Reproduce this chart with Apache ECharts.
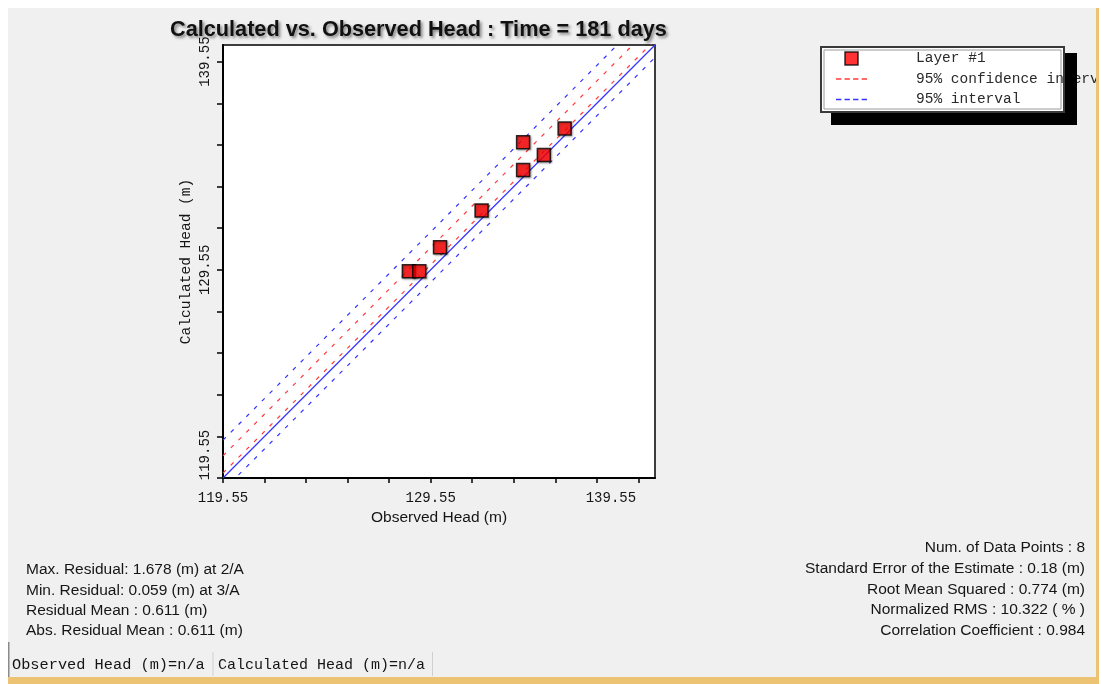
<!DOCTYPE html>
<html><head><meta charset="utf-8">
<script src="https://cdn.jsdelivr.net/npm/echarts@6/dist/echarts.min.js"></script>
<style>html,body{margin:0;padding:0;background:#fff;}#c{width:1102px;height:684px;}</style>
</head><body><div id="c"></div>
<script>
// ---- data ----
const observedHead   = [128.5, 129.0, 130.0, 132.0, 134.0, 134.0, 135.0, 136.0];
const calculatedHead = [129.48, 129.48, 130.64, 132.40, 134.34, 135.68, 135.06, 136.34];
const axisRange  = [119.55, 140.35];
const tickValues = [119.55, 121.55, 123.55, 125.55, 127.55, 129.55, 131.55, 133.55, 135.55, 137.55, 139.55];
const labelValues = [119.55, 129.55, 139.55];
const lineOneToOne = [[119.55, 119.55], [140.35, 140.35]];
const confUpper = [[119.55, 120.62], [140.35, 141.42]];
const confLower = [[119.55, 119.79], [140.35, 140.59]];
const predUpper = [[119.55, 121.37], [140.35, 142.17]];
const predLower = [[119.55, 118.95], [140.35, 139.75]];
const legendNames = ['Layer #1', '95% confidence interval', '95% interval'];
const titleText = 'Calculated vs. Observed Head : Time = 181 days';
const xName = 'Observed Head (m)';
const yName = 'Calculated Head (m)';
const leftStats = ['Max. Residual: 1.678 (m) at 2/A', 'Min. Residual: 0.059 (m) at 3/A', 'Residual Mean : 0.611 (m)', 'Abs. Residual Mean : 0.611 (m)'];
const rightStats = ['Num. of Data Points : 8', 'Standard Error of the Estimate : 0.18 (m)', 'Root Mean Squared : 0.774 (m)', 'Normalized RMS : 10.322 ( % )', 'Correlation Coefficient : 0.984'];
const statusTexts = ['Observed Head (m)=n/a', 'Calculated Head (m)=n/a'];

// ---- styling ----
const MONO = '"Liberation Mono", "DejaVu Sans Mono", monospace';
const SANS = '"Liberation Sans", Arial, sans-serif';
const BLUE = '#3434ff', RED = '#ff3a3a', TXT = '#151515';
const DASH_ICON = 'path://M0,0h5v1.3h-5z M8,0h5v1.3h-5z M16,0h5v1.3h-5z M24,0h5v1.3h-5z';
const SQUARE_ICON = 'path://M0,0h10v10h-10z';

const chart = echarts.init(document.getElementById('c'));

const isVal = (v, t) => Math.abs(v - t) < 1e-6;
const labelRich = {
  n: { fontFamily: MONO, fontSize: 14, color: TXT },
  sx: { fontFamily: MONO, fontSize: 14, color: TXT, padding: [0, 55, 0, 0] },
  sy: { fontFamily: MONO, fontSize: 14, color: TXT, padding: [0, 0, 0, 46] }
};

const graphics = [];
// window panel
graphics.push({ type: 'rect', z: -20, silent: true, shape: { x: 8, y: 8, width: 1089, height: 669 }, style: { fill: '#f0f0f0' } });
// yellow frame
graphics.push({ type: 'rect', z: 30, silent: true, shape: { x: 1096, y: 8, width: 3, height: 676 }, style: { fill: '#ecc373' } });
graphics.push({ type: 'rect', z: 30, silent: true, shape: { x: 8, y: 677, width: 1091, height: 7 }, style: { fill: '#ecc373' } });
graphics.push({ type: 'rect', z: 30, silent: true, shape: { x: 1099, y: 0, width: 3, height: 684 }, style: { fill: '#ffffff' } });
// legend box + shadow
graphics.push({ type: 'rect', z: 3, silent: true, shape: { x: 821, y: 47, width: 243, height: 65 }, style: { fill: '#ffffff', stroke: '#3a3a3a', lineWidth: 2 } });
graphics.push({ type: 'rect', z: 3, silent: true, shape: { x: 824, y: 50, width: 237, height: 59 }, style: { fill: 'none', stroke: '#9a9a9a', lineWidth: 1 } });
graphics.push({ type: 'rect', z: 20, silent: true, shape: { x: 1065, y: 53, width: 12, height: 72 }, style: { fill: '#000' } });
graphics.push({ type: 'rect', z: 20, silent: true, shape: { x: 831, y: 113, width: 246, height: 12 }, style: { fill: '#000' } });
// statistics
leftStats.forEach((t, i) => graphics.push({ type: 'text', z: 5, silent: true, x: 26, y: 570 + i * 20.3,
  style: { text: t, font: '15.5px ' + SANS, fill: TXT, textAlign: 'left', textVerticalAlign: 'middle' } }));
rightStats.forEach((t, i) => graphics.push({ type: 'text', z: 5, silent: true, x: 1085, y: 548 + i * 20.7,
  style: { text: t, font: '15.5px ' + SANS, fill: TXT, textAlign: 'right', textVerticalAlign: 'middle' } }));
// status bar
graphics.push({ type: 'rect', z: 5, silent: true, shape: { x: 8, y: 642, width: 1.5, height: 35 }, style: { fill: '#8a8a8a' } });
graphics.push({ type: 'rect', z: 5, silent: true, shape: { x: 212.5, y: 652, width: 1, height: 24 }, style: { fill: '#cfcfcf' } });
graphics.push({ type: 'rect', z: 5, silent: true, shape: { x: 432, y: 652, width: 1, height: 24 }, style: { fill: '#cfcfcf' } });
graphics.push({ type: 'text', z: 5, silent: true, x: 12, y: 665, style: { text: statusTexts[0], font: '15.3px ' + MONO, fill: TXT, textVerticalAlign: 'middle' } });
graphics.push({ type: 'text', z: 5, silent: true, x: 218, y: 665, style: { text: statusTexts[1], font: '15px ' + MONO, fill: TXT, textVerticalAlign: 'middle' } });

const dashLine = (name, data, color) => ({
  name, type: 'line', data, symbol: 'none', silent: true, clip: true, z: 2,
  lineStyle: { color, width: 1.2, type: [4, 7] }, itemStyle: { color }
});

const option = {
  backgroundColor: '#ffffff',
  animation: false,
  title: {
    text: titleText, left: 170, top: 19, padding: 0,
    textStyle: { fontFamily: SANS, fontSize: 21.7, fontWeight: 'bold', color: '#111',
      textShadowColor: 'rgba(0,0,0,0.45)', textShadowBlur: 3, textShadowOffsetX: 2, textShadowOffsetY: 2 }
  },
  legend: {
    data: [
      { name: legendNames[0], icon: SQUARE_ICON, itemStyle: { color: '#ff0000', borderColor: '#000', borderWidth: 1.5 } },
      { name: legendNames[1], icon: DASH_ICON, itemStyle: { color: RED, borderWidth: 0 } },
      { name: legendNames[2], icon: DASH_ICON, itemStyle: { color: BLUE, borderWidth: 0 } }
    ],
    orient: 'vertical', left: 836, top: 51, padding: 0, symbolKeepAspect: true,
    itemWidth: 31, itemHeight: 13, itemGap: 5.5, selectedMode: false,
    textStyle: { fontFamily: MONO, fontSize: 14.5, color: '#2a2a2a', padding: [0, 0, 0, 44] }
  },
  grid: { left: 223, top: 45, width: 432, height: 433, show: true, backgroundColor: '#ffffff', borderColor: '#000', borderWidth: 1.5 },
  xAxis: {
    type: 'value', min: axisRange[0], max: axisRange[1],
    name: xName, nameLocation: 'middle', nameGap: 32,
    nameTextStyle: { fontFamily: SANS, fontSize: 15.5, color: TXT },
    axisLine: { show: true, onZero: false, lineStyle: { color: '#000', width: 2 } },
    axisTick: { show: true, length: 5, customValues: tickValues, lineStyle: { color: '#000', width: 1.5 } },
    axisLabel: { customValues: labelValues, margin: 13, rich: labelRich,
      formatter: v => (isVal(v, labelValues[2]) ? '{sx|' : '{n|') + v.toFixed(2) + '}' },
    splitLine: { show: false }
  },
  yAxis: {
    type: 'value', min: axisRange[0], max: axisRange[1],
    name: yName, nameLocation: 'middle', nameGap: 29, nameRotate: 90,
    nameTextStyle: { fontFamily: MONO, fontSize: 14.5, color: TXT },
    axisLine: { show: true, onZero: false, lineStyle: { color: '#000', width: 2 } },
    axisTick: { show: true, length: 6, customValues: tickValues, lineStyle: { color: '#000', width: 1.5 } },
    axisLabel: { customValues: labelValues, rotate: 90, margin: 11, rich: labelRich,
      formatter: v => (isVal(v, labelValues[0]) ? '{sy|' : '{n|') + v.toFixed(2) + '}' },
    splitLine: { show: false }
  },
  series: [
    { name: 'Line 1:1', type: 'line', data: lineOneToOne, symbol: 'none', silent: true, clip: true, z: 2,
      lineStyle: { color: BLUE, width: 1.2, type: 'solid' } },
    dashLine(legendNames[1], confUpper, RED),
    dashLine(legendNames[1], confLower, RED),
    dashLine(legendNames[2], predUpper, BLUE),
    dashLine(legendNames[2], predLower, BLUE),
    { name: legendNames[0], type: 'scatter', z: 5,
      data: observedHead.map((x, i) => [x, calculatedHead[i]]),
      symbol: 'rect', symbolSize: 13,
      itemStyle: { color: '#ff0000', borderColor: '#000', borderWidth: 1.5,
        shadowColor: 'rgba(0,0,0,0.35)', shadowBlur: 2, shadowOffsetX: 1, shadowOffsetY: 1 } }
  ],
  graphic: { elements: graphics }
};
chart.setOption(option);
</script>
</body></html>
